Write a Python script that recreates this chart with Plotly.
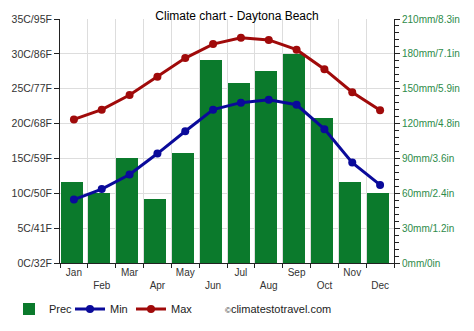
import plotly.graph_objects as go

months = ["Jan", "Feb", "Mar", "Apr", "May", "Jun", "Jul", "Aug", "Sep", "Oct", "Nov", "Dec"]
prec_mm = [70, 60, 90, 55, 95, 175, 155, 165, 180, 125, 70, 60]
t_min = [9.1, 10.6, 12.7, 15.7, 18.9, 22.0, 23.0, 23.4, 22.7, 19.2, 14.4, 11.2]
t_max = [20.6, 22.0, 24.1, 26.7, 29.4, 31.4, 32.3, 32.0, 30.6, 27.8, 24.5, 21.9]
left_vals = [0, 5, 10, 15, 20, 25, 30, 35]
left_text = ["0C/32F", "5C/41F", "10C/50F", "15C/59F", "20C/68F", "25C/77F", "30C/86F", "35C/95F"]
right_vals = [0, 30, 60, 90, 120, 150, 180, 210]
right_text = ["0mm/0in", "30mm/1.2in", "60mm/2.4in", "90mm/3.6in", "120mm/4.8in",
              "150mm/5.9in", "180mm/7.1in", "210mm/8.3in"]

GREEN = "#0b7a2c"
BLUE = "#0a0a9a"
RED = "#a00a0a"
FONT = "Liberation Sans, Arial, sans-serif"

x = list(range(12))
ticktext = [m if i % 2 == 0 else "<br>" + m for i, m in enumerate(months)]

fig = go.Figure()
# precipitation on base axis (right side), temperatures on overlaying axis (left side) so lines sit on top
fig.add_trace(go.Bar(x=x, y=prec_mm, name="Prec", marker=dict(color=GREEN, line=dict(width=0)),
                     width=0.79, offset=-0.48, yaxis="y"))
fig.add_trace(go.Scatter(x=x, y=t_min, name="Min", mode="lines+markers", yaxis="y2",
                         line=dict(color=BLUE, width=3), marker=dict(color=BLUE, size=8)))
fig.add_trace(go.Scatter(x=x, y=t_max, name="Max", mode="lines+markers", yaxis="y2",
                         line=dict(color=RED, width=3), marker=dict(color=RED, size=8)))

fig.update_layout(
    width=474, height=331,
    margin=dict(l=60, r=80, t=19, b=68, autoexpand=False),
    paper_bgcolor="white", plot_bgcolor="white",
    font=dict(family=FONT, size=11, color="#222"),
    title=dict(text="Climate chart - Daytona Beach", x=237 / 474, xanchor="center",
               y=1 - 16 / 331, yanchor="middle", yref="container",
               font=dict(size=12, color="#000", family=FONT)),
    bargap=0,
    xaxis=dict(range=[-0.5, 11.5], tickvals=x, ticktext=ticktext, ticks="", showgrid=False,
               showline=True, linecolor="#222", linewidth=1, zeroline=False,
               automargin=False,
               tickfont=dict(size=10, color="#333"),
               minor=dict(tick0=0.5, dtick=1, ticks="outside", ticklen=4, tickcolor="#222",
                          showgrid=True, gridcolor="#dddddd", gridwidth=1)),
    yaxis=dict(range=[0, 210], tickvals=right_vals, ticktext=right_text, automargin=False,
               side="right", ticks="outside", ticklen=5, tickcolor="#222", showline=True,
               linecolor="#222", linewidth=1, showgrid=True, gridcolor="#dddddd", zeroline=False,
               tickfont=dict(size=10, color="#2e8b4a"),
               minor=dict(tick0=0, dtick=6, ticks="outside", ticklen=4, tickcolor="#222",
                          showgrid=False)),
    yaxis2=dict(range=[0, 35], tickvals=left_vals, ticktext=left_text, overlaying="y",
                side="left", ticks="outside", ticklen=5, tickcolor="#222", showline=True,
                linecolor="#222", linewidth=1, showgrid=False, zeroline=False, automargin=False,
                tickfont=dict(size=10.5, color="#333")),
    legend=dict(orientation="h", xref="container", yref="container", x=9 / 474, xanchor="left",
                y=1 - 309 / 331, yanchor="middle", font=dict(size=11, color="#222"),
                itemwidth=30, entrywidth=16, entrywidthmode="pixels",
                tracegroupgap=0, bgcolor="rgba(0,0,0,0)"),
    showlegend=True,
)

fig.add_annotation(text="<span style='font-size:8px'>©</span>climatestotravel.com",
                   xref="paper", x=(223 - 60) / (474 - 60 - 80), xanchor="left",
                   yref="paper", y=-(309 - 263) / (263 - 19), yanchor="middle", showarrow=False,
                   font=dict(size=11, color="#222", family=FONT))

fig.write_html("out.html")
